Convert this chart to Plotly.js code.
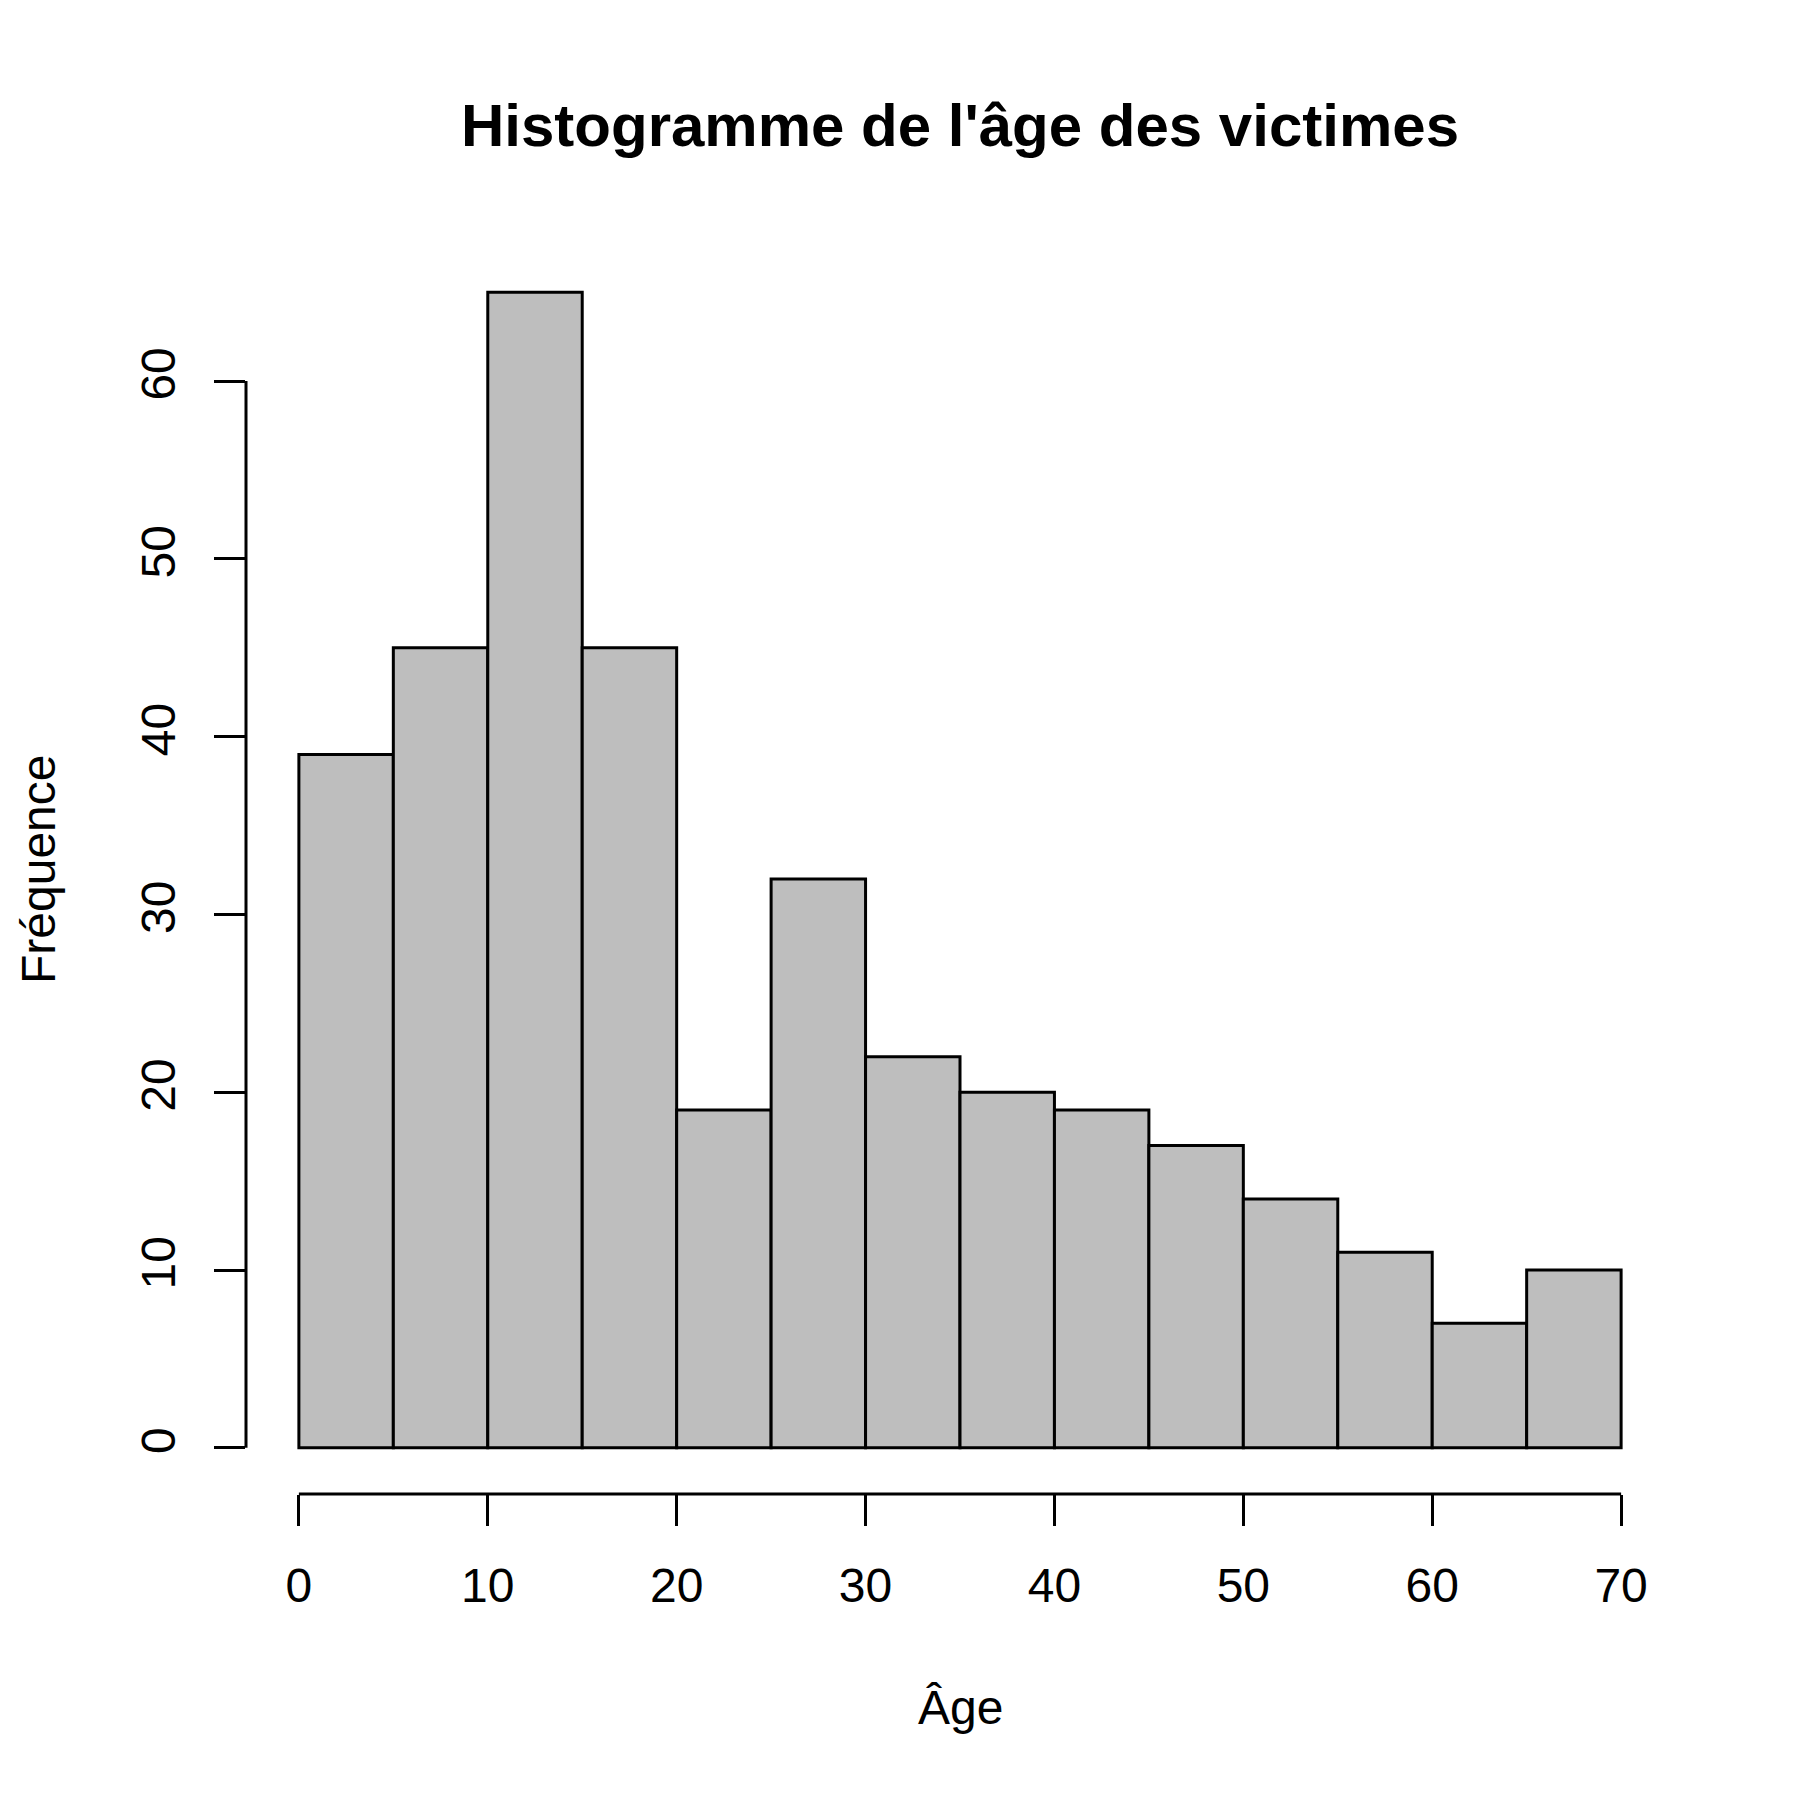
<!DOCTYPE html>
<html>
<head>
<meta charset="utf-8">
<script src="https://cdn.plot.ly/plotly-3.0.1.min.js"></script>
<style>html,body{margin:0;padding:0;background:#fff;}</style>
</head>
<body>
<div id="chart" style="width:1800px;height:1800px;"></div>
<script>
// Histogram data (bins of width 5)
const binStarts = [0, 5, 10, 15, 20, 25, 30, 35, 40, 45, 50, 55, 60, 65];
const binWidth = 5;
const counts = [39, 45, 65, 45, 19, 32, 22, 20, 19, 17, 14, 11, 7, 10];
const xTicks = [0, 10, 20, 30, 40, 50, 60, 70];
const yTicks = [0, 10, 20, 30, 40, 50, 60];
const titleText = "Histogramme de l'âge des victimes";
const xLabel = "Âge";
const yLabel = "Fréquence";

const centers = binStarts.map(b => b + binWidth / 2);
const FONT = "Liberation Sans, Arial, Helvetica, sans-serif";

const trace = {
  type: 'bar',
  x: centers,
  y: counts,
  width: binStarts.map(() => binWidth),
  marker: {color: '#BEBEBE', line: {color: '#000000', width: 3}},
  hoverinfo: 'x+y'
};

const xMin = xTicks[0], xMax = xTicks[xTicks.length - 1];
const yMin = 0, yMaxData = Math.max(...counts);
const xPad = (xMax - xMin) * 0.04, yPad = (yMaxData - yMin) * 0.04;

const layout = {
  width: 1800, height: 1800,
  paper_bgcolor: '#ffffff', plot_bgcolor: '#ffffff',
  margin: {l: 246, r: 126, t: 246, b: 306, pad: 0},
  bargap: 0,
  showlegend: false,
  font: {family: FONT, size: 48, color: '#000'},
  title: {
    text: titleText,
    font: {family: FONT, size: 60, color: '#000', weight: 'bold'},
    xref: 'paper', x: 0.5, xanchor: 'center',
    yref: 'container', y: 1 - 125 / 1800, yanchor: 'middle'
  },
  xaxis: {
    range: [xMin - xPad, xMax + xPad],
    tickvals: xTicks, ticktext: xTicks.map(String),
    ticks: 'outside', ticklen: 31, tickwidth: 3, tickcolor: '#000',
    showline: false, showgrid: false, zeroline: false,
    tickfont: {family: FONT, size: 48, color: '#000'},
    ticklabelstandoff: 18,
    fixedrange: true
  },
  yaxis: {
    range: [yMin - yPad, yMaxData + yPad],
    tickvals: yTicks, ticktext: yTicks.map(String),
    ticks: 'outside', ticklen: 31, tickwidth: 3, tickcolor: '#000',
    tickangle: -90,
    showline: false, showgrid: false, zeroline: false,
    tickfont: {family: FONT, size: 48, color: '#000'},
    ticklabelstandoff: 20,
    fixedrange: true
  },
  shapes: [
    {type: 'line', xref: 'x', yref: 'paper', x0: xMin, x1: xMax, y0: 0, y1: 0,
     line: {color: '#000', width: 3}},
    {type: 'line', xref: 'paper', yref: 'y', x0: 0, x1: 0, y0: yTicks[0], y1: yTicks[yTicks.length - 1],
     line: {color: '#000', width: 3}}
  ],
  annotations: [
    {text: xLabel, xref: 'paper', yref: 'paper', x: 0.5, y: (1494 - 1707) / 1248,
     xanchor: 'center', yanchor: 'middle', showarrow: false,
     font: {family: FONT, size: 48, color: '#000'}},
    {text: yLabel, xref: 'paper', yref: 'paper', x: (38 - 246) / 1428, y: 0.5,
     xanchor: 'center', yanchor: 'middle', showarrow: false, textangle: -90,
     font: {family: FONT, size: 48, color: '#000'}}
  ]
};

Plotly.newPlot('chart', [trace], layout, {displayModeBar: false, staticPlot: true});
</script>
</body>
</html>
